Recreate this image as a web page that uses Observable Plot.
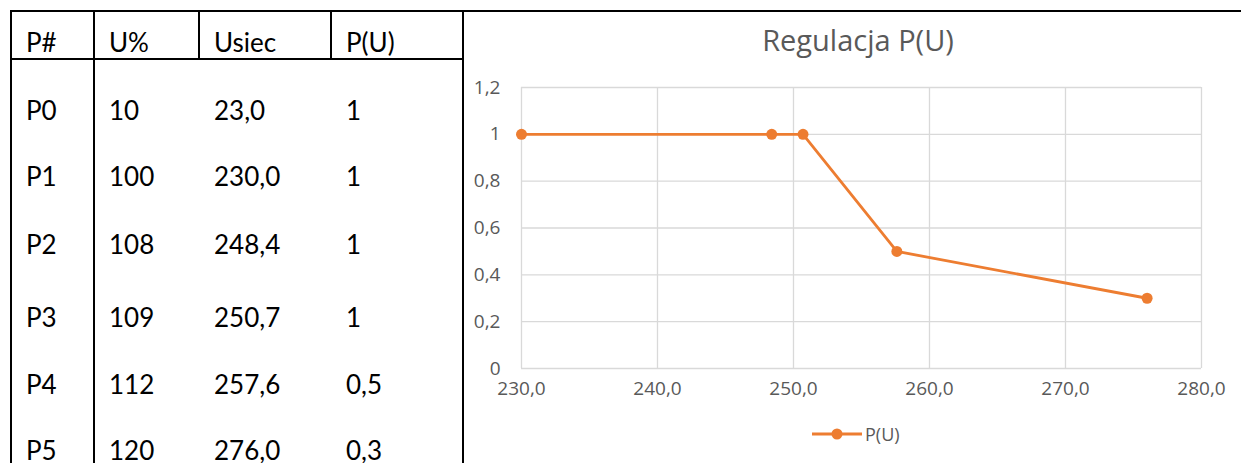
<!DOCTYPE html>
<html>
<head>
<meta charset="utf-8">
<script src="https://cdn.jsdelivr.net/npm/d3@7"></script>
<script src="https://cdn.jsdelivr.net/npm/@observablehq/plot@0.6"></script>
<style>
  html, body { margin: 0; padding: 0; background: #fff; }
  #wrap { position: relative; width: 1241px; height: 463px; overflow: hidden; background: #fff; font-family: Lato, "Open Sans", sans-serif; }
  .ln { position: absolute; background: #000; }
  .cell { position: absolute; font-size: 26px; color: #000; line-height: 1; white-space: nowrap; }
  #title { position: absolute; left: 464px; width: 788px; top: 20px; text-align: center; font-family: "Open Sans", sans-serif; font-size: 29px; color: #595959; }
  #chart { position: absolute; left: 464px; top: 70px; }
  #legend { position: absolute; left: 812px; top: 422px; display: flex; align-items: center; gap: 3px; font-family: "Open Sans", sans-serif; font-size: 18px; color: #595959; }
  #chart svg text { font-size: 19px; }
</style>
</head>
<body>
<div id="wrap">
  <div id="title"></div>
  <div id="chart"></div>
  <div id="legend"></div>
</div>
<script>
// ---- data ----
const headers = ["P#", "U%", "Usiec", "P(U)"];
const pNames = ["P0", "P1", "P2", "P3", "P4", "P5"];
const uPercent = [10, 100, 108, 109, 112, 120];
const uSiec = [23.0, 230.0, 248.4, 250.7, 257.6, 276.0];
const pU = [1, 1, 1, 1, 0.5, 0.3];
const xTicks = [230, 240, 250, 260, 270, 280];
const yTicks = [0, 0.2, 0.4, 0.6, 0.8, 1, 1.2];
const seriesName = "P(U)";
const chartTitle = "Regulacja P(U)";

// ---- layout ----
const colX = [26, 109, 214, 346];
const headerBaseline = 50;
const rowBaselines = [118, 184, 252, 325, 392, 458];
const wrap = document.getElementById("wrap");

function line(x, y, w, h) {
  const d = document.createElement("div");
  d.className = "ln";
  Object.assign(d.style, { left: x + "px", top: y + "px", width: w + "px", height: h + "px" });
  wrap.appendChild(d);
}
// table borders
line(10, 10, 1231, 2);        // top line across
line(10, 58, 454, 2);         // header bottom
line(10, 10, 2, 453);         // left
line(93, 10, 2, 453);         // col 1
line(198, 10, 2, 50);         // col 2 (header only)
line(330, 10, 2, 50);         // col 3 (header only)
line(462, 10, 2, 453);        // right / chart left

function text(str, x, baseline) {
  const d = document.createElement("div");
  d.className = "cell";
  d.textContent = str;
  d.style.left = x + "px";
  d.style.top = (baseline - 26 * 0.8) + "px";
  wrap.appendChild(d);
}
const comma = v => String(v).replace(".", ",");
headers.forEach((h, i) => text(h, colX[i], headerBaseline));
pNames.forEach((p, r) => {
  text(p, colX[0], rowBaselines[r]);
  text(String(uPercent[r]), colX[1], rowBaselines[r]);
  text(uSiec[r].toFixed(1).replace(".", ","), colX[2], rowBaselines[r]);
  text(comma(pU[r]), colX[3], rowBaselines[r]);
});

document.getElementById("title").textContent = chartTitle;

// ---- chart ----
const rows = pNames.map((p, i) => ({ name: p, u: uSiec[i], p: pU[i] }))
  .filter(d => d.u >= xTicks[0] && d.u <= xTicks[xTicks.length - 1]);
const orange = "#ED7D31";
const grid = "#D9D9D9";
const fx = d => d.toFixed(1).replace(".", ",");
const fy = d => String(+d.toFixed(1)).replace(".", ",");

const chart = Plot.plot({
  width: 777,
  height: 340,
  marginLeft: 57,
  marginRight: 40,
  marginTop: 17,
  marginBottom: 42,
  style: { fontFamily: "'Open Sans', sans-serif", fontSize: "19px", color: "#595959", background: "transparent" },
  x: { domain: [xTicks[0], xTicks[xTicks.length - 1]], label: null },
  y: { domain: [yTicks[0], yTicks[yTicks.length - 1]], label: null },
  marks: [
    Plot.gridX(xTicks, { stroke: grid, strokeOpacity: 1, strokeWidth: 1.3 }),
    Plot.gridY(yTicks, { stroke: grid, strokeOpacity: 1, strokeWidth: 1.3 }),
    Plot.line(rows, { x: "u", y: "p", stroke: orange, strokeWidth: 2.8 }),
    Plot.dot(rows, { x: "u", y: "p", fill: orange, r: 5.5 }),
    Plot.axisX(xTicks, { tickSize: 0, tickPadding: 13, tickFormat: fx, fill: "#595959" }),
    Plot.axisY(yTicks, { tickSize: 0, tickPadding: 21, tickFormat: fy, fill: "#595959" })
  ]
});
document.getElementById("chart").appendChild(chart);

// ---- legend ----
const leg = document.getElementById("legend");
leg.innerHTML = `<svg width="50" height="12"><line x1="0" y1="6" x2="50" y2="6" stroke="${orange}" stroke-width="2.8"/><circle cx="25" cy="6" r="5.5" fill="${orange}"/></svg><span>${seriesName}</span>`;
</script>
</body>
</html>
